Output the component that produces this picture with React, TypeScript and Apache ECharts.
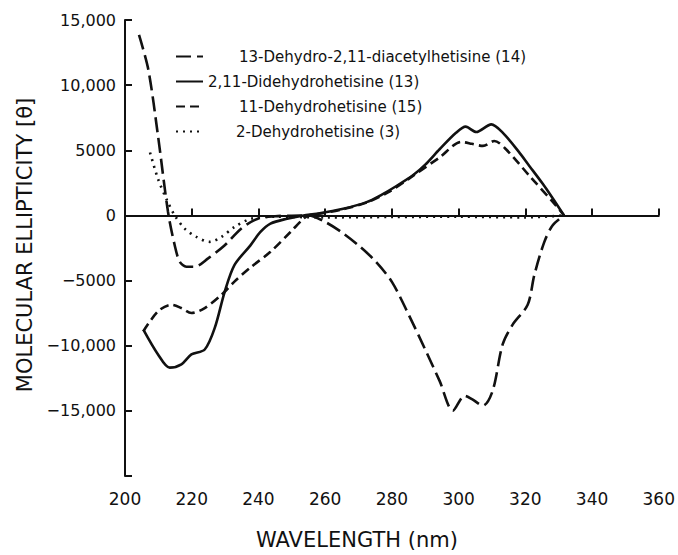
import React, { useEffect, useRef } from "react";
import * as echarts from "echarts";

// Wavelength (nm) and molecular ellipticity readings for each compound
const wl14 = [204.2, 207, 209.9, 212.9, 214.9, 216.4, 218.4, 220.9, 224.9, 229.9, 234.8, 239.8, 245, 250, 255, 260, 265, 270, 275, 280, 285, 290, 294.3, 298.3, 301.8, 304, 307.3, 310.2, 313.2, 316.2, 320.7, 322.7, 325.7, 328.2, 331.6];
const cd14 = [13850, 11180, 6100, 260, -2290, -3550, -3935, -3935, -3300, -2290, -1015, -250, -60, -20, 0, -500, -1300, -2300, -3500, -5100, -7600, -10300, -12700, -14985, -13840, -14100, -14600, -13460, -9900, -8380, -6860, -4570, -2030, -760, 0];

const wl13 = [205.5, 209.9, 213.4, 216.9, 219.9, 223.9, 226.9, 229.9, 232.8, 237.6, 240.6, 243.6, 248.6, 253.5, 257.5, 265.4, 272.4, 277, 281, 286.4, 290, 294.3, 299.3, 302.1, 305.3, 309.8, 313.2, 318, 321.2, 325, 328, 331.6];
const cd13 = [-8765, -10670, -11685, -11430, -10670, -10290, -8635, -5840, -3810, -2300, -1270, -630, -250, 0, 130, 510, 1020, 1600, 2200, 3100, 3900, 5080, 6360, 6814, 6400, 6990, 6360, 4900, 3800, 2500, 1400, 0];

const wl15 = [205.5, 209.9, 213.9, 216.9, 219.9, 223.9, 228.9, 232.8, 237.6, 243.6, 249.6, 253.5, 255, 260, 265.4, 272.4, 279.4, 286.4, 294.3, 300.8, 304, 307.3, 310.7, 314.2, 321.2, 329.2, 331.6];
const cd15 = [-8890, -7360, -6860, -7110, -7490, -7110, -6100, -5080, -4000, -2790, -1270, -250, 0, 200, 480, 980, 1850, 3050, 4450, 5640, 5500, 5335, 5716, 5080, 3050, 760, 0];

const wl3 = [207.5, 209.9, 212.4, 214.9, 217.9, 221.4, 225.4, 228.9, 232.8, 237.8, 245, 260, 280, 300, 320, 331.6];
const cd3 = [4830, 2800, 1270, 0, -1015, -1650, -2030, -1650, -890, -250, -100, -150, -120, -100, -150, 0];

const seriesNames = [
  "13-Dehydro-2,11-diacetylhetisine (14)",
  "2,11-Didehydrohetisine (13)",
  "11-Dehydrohetisine (15)",
  "2-Dehydrohetisine (3)",
];

const xTicks = [200, 220, 240, 260, 280, 300, 320, 340, 360];

const zip = (xs: number[], ys: number[]) => xs.map((x, i) => [x, ys[i]]);

const FONT = "DejaVu Sans, sans-serif";
const INK = "#111";

const fmtY = (v: number) => {
  if (v === -20000) return "";
  const a = Math.abs(v);
  const s = a >= 10000 ? a.toLocaleString("en-US") : String(a);
  return (v < 0 ? "\u2212" : "") + s;
};

export default function App() {
  const ref = useRef<HTMLDivElement>(null);
  useEffect(() => {
    if (!ref.current) return;
    const chart = echarts.init(ref.current, undefined, { renderer: "svg" });
    const line = (name: string, data: number[][], type: any, extra: any = {}) => ({
      name,
      type: "line",
      data,
      smooth: 0.3,
      symbol: "none",
      showSymbol: false,
      silent: true,
      lineStyle: { color: INK, width: 2.6, type },
      itemStyle: { color: INK },
      ...extra,
    });
    chart.setOption({
      animation: false,
      backgroundColor: "#fff",
      grid: { left: 125, right: 17, top: 20, bottom: 74 },
      legend: {
        orient: "vertical",
        left: 175,
        top: 48,
        padding: 0,
        itemGap: 8,
        itemWidth: 27,
        itemHeight: 14,
        selectedMode: false,
        itemStyle: { opacity: 0, borderWidth: 0 },
        textStyle: { fontFamily: FONT, fontSize: 15, color: INK, lineHeight: 17 },
        data: [
          { name: seriesNames[0], textStyle: { padding: [0, 0, 0, 31] } },
          { name: seriesNames[1] },
          { name: seriesNames[2], textStyle: { padding: [0, 0, 0, 31] } },
          { name: seriesNames[3], textStyle: { padding: [0, 0, 0, 28] } },
        ],
      },
      xAxis: {
        type: "value",
        min: xTicks[0],
        max: xTicks[xTicks.length - 1],
        interval: 20,
        name: "WAVELENGTH (nm)",
        nameLocation: "middle",
        nameGap: 53,
        nameTextStyle: { fontFamily: FONT, fontSize: 21, color: INK, padding: [0, 70, 0, 0] },
        axisLine: { show: true, lineStyle: { color: INK, width: 2 } },
        axisTick: { show: true, inside: true, length: 7, lineStyle: { color: INK, width: 2 } },
        axisLabel: { fontFamily: FONT, fontSize: 17, color: INK, margin: 14 },
        splitLine: { show: false },
      },
      yAxis: {
        type: "value",
        min: -20000,
        max: 15000,
        interval: 5000,
        name: "MOLECULAR ELLIPTICITY [\u03B8]",
        nameLocation: "middle",
        nameRotate: 90,
        nameGap: 88,
        nameTextStyle: { fontFamily: FONT, fontSize: 21, color: INK, padding: [0, 0, 0, 6] },
        axisLine: { show: true, lineStyle: { color: INK, width: 2 } },
        axisTick: { show: true, inside: true, length: 7, lineStyle: { color: INK, width: 2 } },
        axisLabel: { fontFamily: FONT, fontSize: 16, color: INK, margin: 9, formatter: fmtY },
        splitLine: { show: false },
      },
      series: [
        line(seriesNames[0], zip(wl14, cd14), [15, 6]),
        line(seriesNames[1], zip(wl13, cd13), "solid", {
          markLine: {
            silent: true,
            symbol: "none",
            label: { show: false },
            lineStyle: { color: INK, width: 1.6, type: "solid" },
            data: [{ yAxis: 0 }],
          },
        }),
        line(seriesNames[2], zip(wl15, cd15), [9, 5]),
        line(seriesNames[3], zip(wl3, cd3), [2, 5]),
      ],
    });
    return () => chart.dispose();
  }, []);
  return (
    <div
      ref={ref}
      style={{ position: "absolute", left: 0, top: 0, width: 678, height: 555 }}
    />
  );
}
